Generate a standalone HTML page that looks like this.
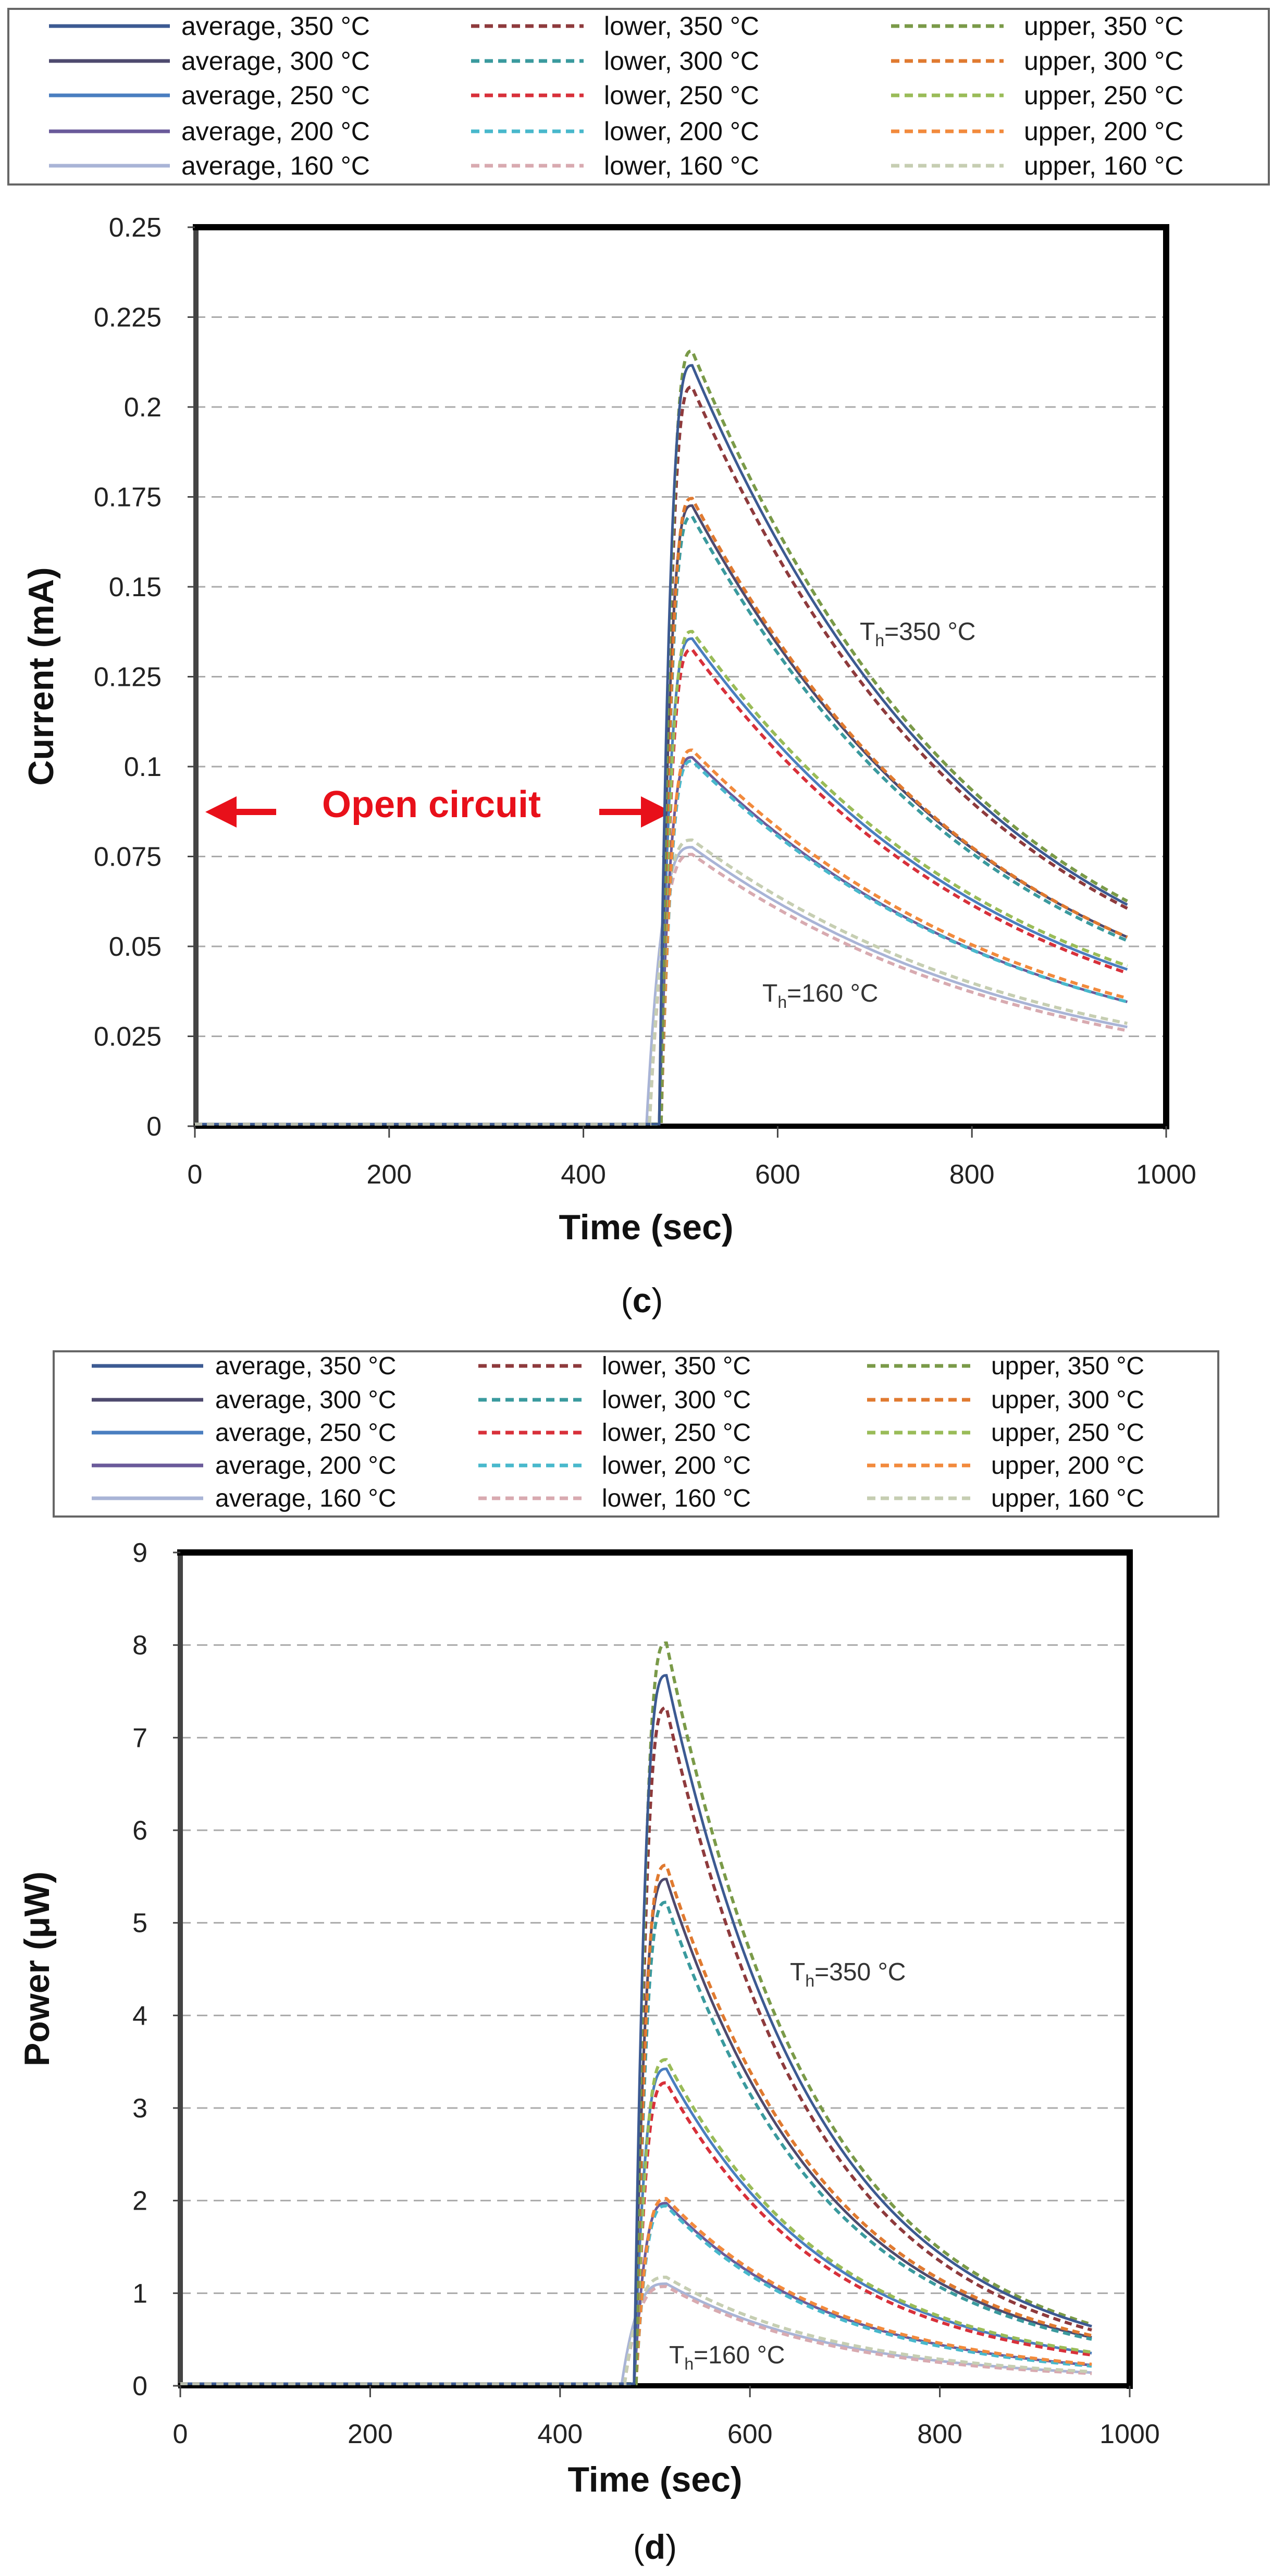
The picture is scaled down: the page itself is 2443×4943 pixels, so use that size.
<!DOCTYPE html>
<html><head><meta charset="utf-8"><style>
html,body{margin:0;padding:0;background:#fff;}
svg{display:block;}
text{font-family:"Liberation Sans",sans-serif;}
</style></head><body>
<svg id="s" width="2443" height="4943" viewBox="0 0 2443 4943" xmlns="http://www.w3.org/2000/svg">
<rect width="2443" height="4943" fill="#fff"/>
<!-- Legend c -->
<rect x="16" y="17" width="2419" height="337" fill="#fff" stroke="#666" stroke-width="4"/>
<g font-size="50" fill="#111">
<text x="348" y="67">average, 350 °C</text><text x="348" y="134">average, 300 °C</text><text x="348" y="200">average, 250 °C</text><text x="348" y="269">average, 200 °C</text><text x="348" y="335">average, 160 °C</text>
<text x="1159" y="67">lower, 350 °C</text><text x="1159" y="134">lower, 300 °C</text><text x="1159" y="200">lower, 250 °C</text><text x="1159" y="269">lower, 200 °C</text><text x="1159" y="335">lower, 160 °C</text>
<text x="1965" y="67">upper, 350 °C</text><text x="1965" y="134">upper, 300 °C</text><text x="1965" y="200">upper, 250 °C</text><text x="1965" y="269">upper, 200 °C</text><text x="1965" y="335">upper, 160 °C</text>
</g>
<g id="legc"></g>
<!-- Legend d -->
<rect x="103" y="2593" width="2235" height="317" fill="#fff" stroke="#666" stroke-width="4"/>
<g font-size="48" fill="#111">
<text x="413" y="2637">average, 350 °C</text><text x="413" y="2702">average, 300 °C</text><text x="413" y="2765">average, 250 °C</text><text x="413" y="2828">average, 200 °C</text><text x="413" y="2891">average, 160 °C</text>
<text x="1155" y="2637">lower, 350 °C</text><text x="1155" y="2702">lower, 300 °C</text><text x="1155" y="2765">lower, 250 °C</text><text x="1155" y="2828">lower, 200 °C</text><text x="1155" y="2891">lower, 160 °C</text>
<text x="1902" y="2637">upper, 350 °C</text><text x="1902" y="2702">upper, 300 °C</text><text x="1902" y="2765">upper, 250 °C</text><text x="1902" y="2828">upper, 200 °C</text><text x="1902" y="2891">upper, 160 °C</text>
</g>
<g id="legd"></g>

<!-- Plot c -->
<g id="gridc"></g>
<rect x="530" y="1500" width="620" height="90" fill="#fff"/>
<text x="828" y="1568" font-size="72" font-weight="bold" fill="#e8101a" text-anchor="middle">Open circuit</text>
<path d="M394,1558 L454,1528 L454,1552 L530,1552 L530,1564 L454,1564 L454,1588 Z" fill="#e8101a"/>
<path d="M1290,1558 L1230,1528 L1230,1552 L1150,1552 L1150,1564 L1230,1564 L1230,1588 Z" fill="#e8101a"/>
<text x="1650" y="1228" font-size="48" fill="#333">T<tspan font-size="32" dy="12">h</tspan><tspan dy="-12">=350 °C</tspan></text>
<text x="1463" y="1922" font-size="48" fill="#333">T<tspan font-size="32" dy="12">h</tspan><tspan dy="-12">=160 °C</tspan></text>
<line x1="376" y1="430" x2="376" y2="2163" stroke="#444" stroke-width="10"/>
<line x1="370" y1="436" x2="2238" y2="436" stroke="#000" stroke-width="12"/>
<line x1="2238" y1="430" x2="2238" y2="2167" stroke="#000" stroke-width="12"/>
<line x1="372" y1="2161" x2="2244" y2="2161" stroke="#000" stroke-width="10"/>
<g id="curvc"></g>
<g id="ticksc"></g>
<text x="84" y="1298" font-size="68" font-weight="bold" fill="#111" text-anchor="middle" transform="rotate(-90 84 1298)" dominant-baseline="middle">Current (mA)</text>
<text x="1240" y="2378" font-size="68" font-weight="bold" fill="#111" text-anchor="middle">Time (sec)</text>
<text x="1232" y="2518" font-size="66" fill="#111" text-anchor="middle" font-family="Liberation Serif">(<tspan font-weight="bold">c</tspan>)</text>

<!-- Plot d -->
<g id="gridd"></g>
<text x="1516" y="3800" font-size="48" fill="#333">T<tspan font-size="32" dy="12">h</tspan><tspan dy="-12">=350 °C</tspan></text>
<text x="1284" y="4535" font-size="48" fill="#333">T<tspan font-size="32" dy="12">h</tspan><tspan dy="-12">=160 °C</tspan></text>
<line x1="346" y1="2973" x2="346" y2="4580" stroke="#444" stroke-width="10"/>
<line x1="340" y1="2979" x2="2168" y2="2979" stroke="#000" stroke-width="12"/>
<line x1="2168" y1="2973" x2="2168" y2="4584" stroke="#000" stroke-width="12"/>
<line x1="342" y1="4578" x2="2174" y2="4578" stroke="#000" stroke-width="10"/>
<g id="curvd"></g>
<g id="ticksd"></g>
<text x="76" y="3778" font-size="68" font-weight="bold" fill="#111" text-anchor="middle" transform="rotate(-90 76 3778)" dominant-baseline="middle">Power (μW)</text>
<text x="1257" y="4781" font-size="68" font-weight="bold" fill="#111" text-anchor="middle">Time (sec)</text>
<text x="1257" y="4910" font-size="66" fill="#111" text-anchor="middle" font-family="Liberation Serif">(<tspan font-weight="bold">d</tspan>)</text>
</svg>
<script>
(function(){
var NS="http://www.w3.org/2000/svg";
function el(p,tag,a,txt){var e=document.createElementNS(NS,tag);for(var k in a)e.setAttribute(k,a[k]);if(txt!=null)e.textContent=txt;p.appendChild(e);return e;}
var cols={a350:"#3c5a92",a300:"#4e4a6e",a250:"#4a7ec0",a200:"#6a5a9a",a160:"#a9b4d6",
l350:"#8e3a3c",l300:"#3a9a9e",l250:"#d8303a",l200:"#48b8cc",l160:"#d8aab0",
u350:"#7a9a48",u300:"#e07a30",u250:"#9abc58",u200:"#f28a3c",u160:"#c6ceb2"};
function leg(g,rows,xs,x2s){var keys=["350","300","250","200","160"];
 for(var i=0;i<5;i++){var y=rows[i];
  el(g,"line",{x1:xs[0],x2:x2s[0],y1:y,y2:y,stroke:cols["a"+keys[i]],"stroke-width":7});
  el(g,"line",{x1:xs[1],x2:x2s[1],y1:y,y2:y,stroke:cols["l"+keys[i]],"stroke-width":7,"stroke-dasharray":"16 10"});
  el(g,"line",{x1:xs[2],x2:x2s[2],y1:y,y2:y,stroke:cols["u"+keys[i]],"stroke-width":7,"stroke-dasharray":"16 10"});}}
leg(document.getElementById("legc"),[50,117,183,252,318],[94,904,1710],[326,1120,1926]);
leg(document.getElementById("legd"),[2621,2686,2749,2812,2875],[176,918,1664],[390,1118,1864]);
function axes(gg,gt,x0,x1,y0,yTop,n,labs,labX){
 var dy=(y0-yTop)/n;
 for(var i=0;i<=n;i++){var y=y0-i*dy;
  if(i>0&&i<n)el(gg,"line",{x1:x0,x2:x1,y1:y,y2:y,stroke:"#aaa","stroke-width":3,"stroke-dasharray":"20 12"});
  el(gt,"line",{x1:x0-14,x2:x0,y1:y,y2:y,stroke:"#444","stroke-width":3});
  el(gt,"text",{x:labX,y:y+18,"font-size":52,"text-anchor":"end",fill:"#222"},labs[i]);}
 for(var j=0;j<=5;j++){var x=x0+(x1-x0)*j/5;
  el(gt,"line",{x1:x,x2:x,y1:y0,y2:y0+22,stroke:"#444","stroke-width":3});
  el(gt,"text",{x:x,y:y0+110,"font-size":52,"text-anchor":"middle",fill:"#222"},String(j*200));}
}
axes(document.getElementById("gridc"),document.getElementById("ticksc"),374,2238,2161,436,10,
 ["0","0.025","0.05","0.075","0.1","0.125","0.15","0.175","0.2","0.225","0.25"],310);
axes(document.getElementById("gridd"),document.getElementById("ticksd"),346,2168,4578,2979,9,
 ["0","1","2","3","4","5","6","7","8","9"],283);
function curves(g,x0,x1,y0,yTop,vmax,data){
 function X(t){return x0+(x1-x0)*t/1000;} function Y(v){return y0-4-(y0-yTop)*v/vmax;}
 data.forEach(function(d){var k=d[0],pk=d[1],end=d[2],t0=d[3],tp=512;
  var tauE=(960-tp)/Math.log(pk/end);var tau=0.92*tauE;
  var b=end/(pk*Math.exp(-448/tau))-1;var pts=[];
  pts.push([X(0),Y(0)]);pts.push([X(t0),Y(0)]);
  for(var t=t0;t<=tp;t+=1){var s=(t-t0)/(tp-t0);pts.push([X(t),Y(pk*(1-Math.pow(1-s,3)))]);}
  for(var t=tp;t<=960;t+=4){var dt=t-tp;pts.push([X(t),Y(pk*Math.exp(-dt/tau)*(1+b*Math.pow(dt/448,3)))]);}
  var dd="M"+pts.map(function(p){return p[0].toFixed(1)+","+p[1].toFixed(1);}).join(" L");
  var a={d:dd,fill:"none",stroke:cols[k],"stroke-width":k[0]=="a"?5:6};
  if(k[0]!="a")a["stroke-dasharray"]="14 9";
  el(g,"path",a);});
 el(g,"line",{x1:X(0),x2:X(470),y1:Y(0),y2:Y(0),stroke:"#b8bcae","stroke-width":6,"stroke-dasharray":"14 9"});
}
var dc=[["a160",0.077,0.027,465],["l160",0.075,0.026,468],["u160",0.079,0.028,468],
["a200",0.102,0.034,478],["l200",0.101,0.034,480],["u200",0.104,0.035,480],
["a250",0.135,0.043,478],["l250",0.132,0.042,480],["u250",0.137,0.044,480],
["a300",0.172,0.052,478],["l300",0.169,0.051,480],["u300",0.174,0.052,480],
["l350",0.205,0.060,480],["u350",0.215,0.062,480],["a350",0.211,0.061,478]];
curves(document.getElementById("curvc"),374,2238,2161,436,0.25,dc);
var dp=[["a160",1.08,0.12,465],["l160",1.05,0.11,468],["u160",1.15,0.13,468],
["a200",1.95,0.20,478],["l200",1.92,0.19,480],["u200",2.0,0.21,480],
["a250",3.4,0.33,478],["l250",3.25,0.31,480],["u250",3.5,0.34,480],
["a300",5.45,0.50,478],["l300",5.2,0.48,480],["u300",5.6,0.52,480],
["l350",7.3,0.58,480],["u350",8.0,0.64,480],["a350",7.65,0.62,478]];
curves(document.getElementById("curvd"),346,2168,4578,2979,9,dp);
})();
</script>
</body></html>
